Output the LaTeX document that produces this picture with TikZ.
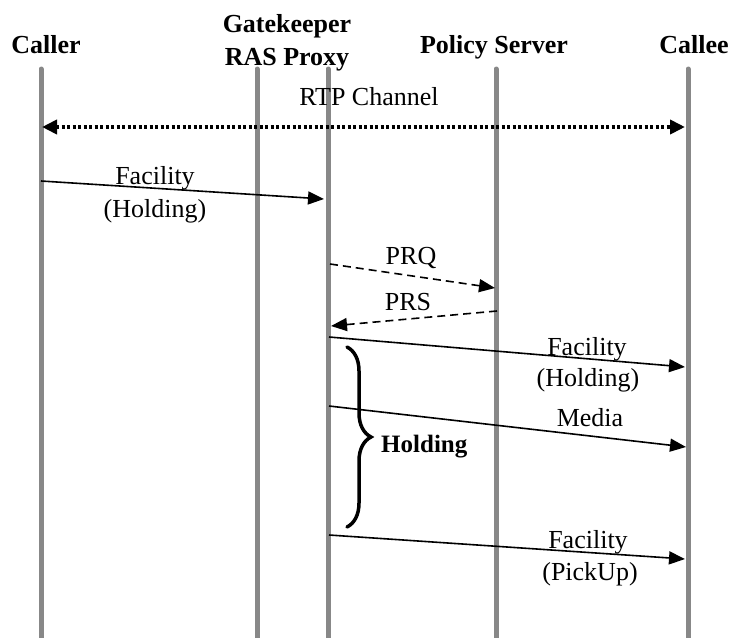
\documentclass[tikz,border=0pt]{standalone}
\usepackage{fontspec}
\setmainfont{Liberation Serif}
\usetikzlibrary{arrows.meta,decorations.pathreplacing}
\definecolor{lifegray}{HTML}{888888}
\tikzset{
  life/.style={draw=lifegray, line width=5pt, line cap=round},
  msg/.style={draw=black, line width=1.6pt, -{Triangle[length=16pt,width=13pt]}},
  dmsg/.style={msg, dash pattern=on 8pt off 5pt},
  rtp/.style={draw=black, line width=4pt, dash pattern=on 3pt off 2.5pt,
    {Triangle[length=15pt,width=14pt]}-{Triangle[length=15pt,width=14pt]}},
  lbl/.style={font=\fontsize{26}{33}\selectfont, inner sep=0pt, anchor=base},
  hdr/.style={font=\fontsize{26}{33}\selectfont\bfseries, inner sep=0pt, anchor=base},
  bracestyle/.style={draw=black, line width=3.5pt, line cap=round,
    decorate, decoration={brace, amplitude=24pt, aspect=0.5}},
}
\begin{document}
\begin{tikzpicture}[x=1pt, y=-1pt]
\useasboundingbox (0,0) rectangle (730,637);
% headers
\node[hdr] (hcaller) at (46,53) {Caller};
\node[hdr] (hgk) at (287,32) {Gatekeeper};
\node[hdr] (hras) at (287,65) {RAS Proxy};
\node[hdr] (hpol) at (494,53) {Policy Server};
\node[hdr] (hcallee) at (694,53) {Callee};
% lifelines
\coordinate (caT) at (41,69);  \coordinate (caB) at (41,640);
\coordinate (gkT) at (257,69); \coordinate (gkB) at (257,640);
\coordinate (raT) at (328,69); \coordinate (raB) at (328,640);
\coordinate (poT) at (496,69); \coordinate (poB) at (496,640);
\coordinate (ceT) at (688,69); \coordinate (ceB) at (688,640);
\draw[life] (caT) -- (caB);
\draw[life] (gkT) -- (gkB);
\draw[life] (raT) -- (raB);
\draw[life] (poT) -- (poB);
\draw[life] (ceT) -- (ceB);
% RTP channel
\coordinate (rtpL) at (42,127);
\coordinate (rtpR) at (685,127);
\draw[rtp] (rtpL) -- (rtpR);
\node[lbl] (lrtp) at (369,105) {RTP Channel};
% Facility (Holding) caller -> proxy
\coordinate (m1a) at (41,181);
\coordinate (m1b) at (324,199);
\draw[msg] (m1a) -- (m1b);
\node[lbl] (l1a) at (155,184) {Facility};
\node[lbl] (l1b) at (155,217) {(Holding)};
% PRQ
\coordinate (pqa) at (330,264);
\coordinate (pqb) at (495,288);
\draw[dmsg] (pqa) -- (pqb);
\node[lbl] (lpq) at (411,264) {PRQ};
% PRS
\coordinate (psa) at (497,311);
\coordinate (psb) at (331,326);
\draw[dmsg] (psa) -- (psb);
\node[lbl] (lps) at (408,310) {PRS};
% Facility (Holding) proxy -> callee
\coordinate (f2a) at (329,337);
\coordinate (f2b) at (685,367);
\draw[msg] (f2a) -- (f2b);
\node[lbl] (lf2a) at (587,355) {Facility};
\node[lbl] (lf2b) at (588,386) {(Holding)};
% Media
\coordinate (mda) at (329,406);
\coordinate (mdb) at (686,447);
\draw[msg] (mda) -- (mdb);
\node[lbl] (lmd) at (590,426) {Media};
% Facility (PickUp)
\coordinate (f3a) at (329,535);
\coordinate (f3b) at (685,559);
\draw[msg] (f3a) -- (f3b);
\node[lbl] (lf3a) at (588,548) {Facility};
\node[lbl] (lf3b) at (590,580) {(PickUp)};
% brace
\coordinate (brT) at (347,347);
\coordinate (brB) at (347,527);
\draw[bracestyle] (brT) -- (brB);
\node[font=\fontsize{25}{30}\selectfont\bfseries, inner sep=0pt, anchor=base west] (lhold) at (381,452) {Holding};
\end{tikzpicture}
\end{document}
